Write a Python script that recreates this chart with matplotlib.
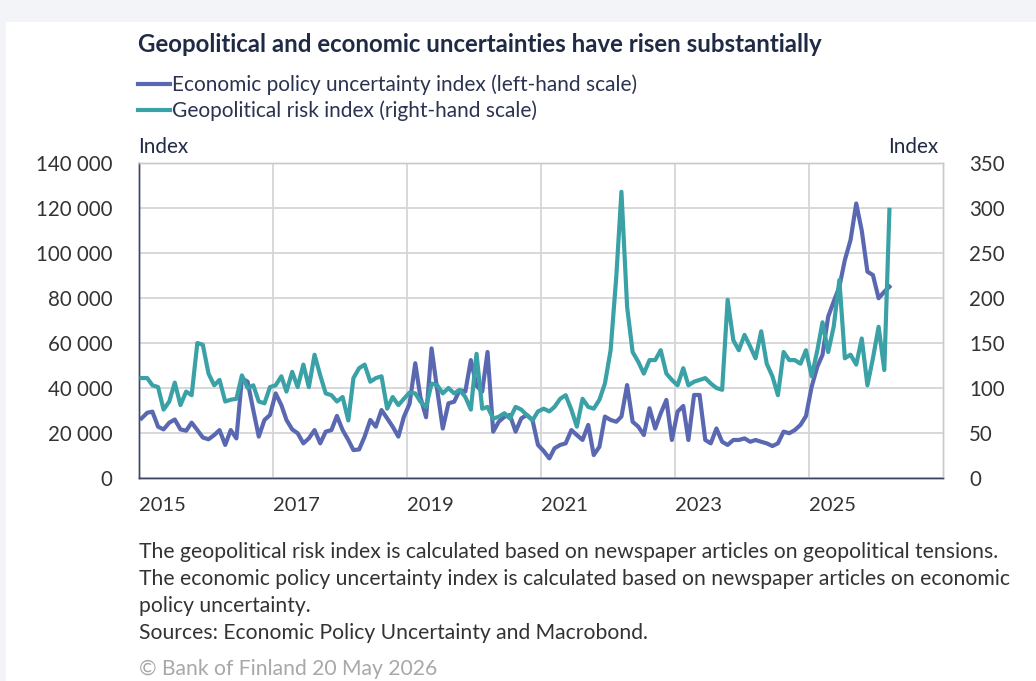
import matplotlib
matplotlib.use("Agg")
import matplotlib.pyplot as plt
import matplotlib.ticker as mticker
from matplotlib.patches import Rectangle
from matplotlib.lines import Line2D
import matplotlib.dates as mdates
import pandas as pd

# ---------------- data ----------------
start_month = "2015-01-01"
epu = [26500, 29000, 29500, 22800, 21600, 24600, 26000, 21600, 21000, 24600, 21300, 18000,
       17200, 19100, 21300, 14700, 21300, 17600, 44300, 42800, 30200, 18400, 25800, 28000,
       37600, 32400, 25800, 21600, 19900, 15400, 17600, 21300, 15400, 20600, 21300, 27600,
       21300, 16900, 12400, 12700, 18400, 25800, 22800, 30200, 26500, 22800, 18400, 27200,
       33000, 51000, 36000, 27000, 57600, 39000, 22000, 33200, 33900, 39000, 38400, 52400,
       41000, 38400, 56000, 20600, 25000, 27200, 28000, 20600, 26500, 28000, 25800, 14700,
       12000, 8700, 13200, 14700, 15400, 21300, 19100, 16900, 23600, 10200, 13900, 27300,
       25800, 25000, 27300, 41300, 25000, 22800, 19100, 31000, 22000, 28700, 34700, 16900,
       29500, 32000, 16900, 36900, 36900, 16900, 15400, 22000, 16100, 14700, 16900, 16900,
       17600, 16100, 16900, 16100, 15400, 14200, 15400, 20600, 19900, 21300, 23600, 27500,
       40600, 49500, 54700, 71700, 78400, 85000, 96900, 105800, 122000, 110000, 91700, 90200,
       79900, 82800, 85000]
gpr = [111, 111, 103, 101, 76, 85, 106, 81, 96, 92, 150, 148,
       116, 103, 109, 85, 87, 88, 114, 100, 103, 85, 83, 101,
       103, 113, 96, 118, 101, 126, 101, 137, 114, 94, 92, 85,
       90, 64, 111, 122, 126, 107, 111, 113, 77, 90, 81, 88,
       95, 94, 85, 79, 105, 103, 94, 100, 94, 98, 90, 76,
       138, 77, 79, 66, 68, 72, 66, 79, 76, 70, 64, 74,
       77, 74, 79, 88, 92, 76, 57, 88, 79, 77, 87, 105,
       142, 224, 318, 190, 140, 129, 116, 131, 131, 142, 116, 109,
       103, 122, 103, 107, 109, 111, 105, 100, 98, 198, 153, 142,
       159, 146, 133, 163, 127, 113, 92, 140, 131, 131, 127, 142,
       113, 142, 173, 140, 168, 220, 133, 137, 126, 155, 103, 133,
       168, 120, 298]

title = "Geopolitical and economic uncertainties have risen substantially"
legend_labels = ["Economic policy uncertainty index (left-hand scale)",
                 "Geopolitical risk index (right-hand scale)"]
axis_unit = "Index"
left_ticks = [0, 20000, 40000, 60000, 80000, 100000, 120000, 140000]
right_ticks = [0, 50, 100, 150, 200, 250, 300, 350]
year_ticks = [2015, 2017, 2019, 2021, 2023, 2025]
notes = ["The geopolitical risk index is calculated based on newspaper articles on geopolitical tensions.",
         "The economic policy uncertainty index is calculated based on newspaper articles on economic",
         "policy uncertainty.",
         "Sources: Economic Policy Uncertainty and Macrobond."]
copyright_text = "\u00a9 Bank of Finland 20 May 2026"

# ---------------- style ----------------
W, H, DPI = 1036, 681, 100
FONT = "Lato"
C_EPU = "#5a68b2"
C_GPR = "#3aa1a6"
C_TEXT = "#1f2a44"
C_GRID = "#d6d6d9"

plt.rcParams["font.family"] = [FONT, "DejaVu Sans"]

fig = plt.figure(figsize=(W / DPI, H / DPI), dpi=DPI)
fig.patch.set_facecolor("#f3f4f7")
fig.patches.append(Rectangle((6 / W, 0), 1 - 6 / W, 1 - 22 / H, transform=fig.transFigure,
                             facecolor="white", edgecolor="none", zorder=-10))
renderer = fig.canvas.get_renderer()


def px(x, y):
    return x / W, 1 - y / H


def fit_size(s, target_w, weight="normal", base=14):
    t = fig.text(0, 0, s, fontsize=base, fontweight=weight)
    w = t.get_window_extent(renderer=renderer).width
    t.remove()
    return base * target_w / w


def fit_text(x, y, s, target_w, weight="normal", color=C_TEXT, **kw):
    size = fit_size(s, target_w, weight)
    return fig.text(*px(x, y), s, fontsize=size, fontweight=weight, color=color,
                    va="baseline", ha="left", **kw)


# axes
L, R, T, B = 139, 943, 163, 478
ax = fig.add_axes([L / W, 1 - B / H, (R - L) / W, (B - T) / H])
ax2 = ax.twinx()

dates = pd.date_range(start_month, periods=len(epu), freq="MS") + pd.Timedelta(days=14)
ax.plot(dates, epu, color=C_EPU, lw=3.0, solid_joinstyle="round", zorder=3)
ax2.plot(dates, gpr, color=C_GPR, lw=3.0, solid_joinstyle="round", zorder=3)

ax.set_xlim(pd.Timestamp("2015-01-01"), pd.Timestamp("2027-01-01"))
ax.set_ylim(0, 140000)
ax2.set_ylim(0, 350)

tick_size = fit_size("140 000", 77)
ax.set_yticks(left_ticks)
ax.yaxis.set_major_formatter(mticker.FuncFormatter(lambda v, p: f"{int(v):,}".replace(",", " ")))
ax2.set_yticks(right_ticks)
ax.tick_params(axis="y", length=0, pad=19, labelsize=tick_size, labelcolor="#333333")
ax2.tick_params(axis="y", length=0, pad=19, labelsize=tick_size, labelcolor="#333333")

ax.set_xticks([pd.Timestamp(f"{y}-01-01") for y in year_ticks])
ax.set_xticklabels([str(y) for y in year_ticks])
ax.tick_params(axis="x", length=0, pad=14, labelsize=fit_size("2015", 47), labelcolor="#333333")
for lab in ax.get_xticklabels():
    lab.set_ha("left")

ax.grid(True, axis="both", color=C_GRID, lw=1.3, zorder=0)
ax.set_axisbelow(True)
for a in (ax, ax2):
    a.spines["left"].set_color("#3b4566")
    a.spines["bottom"].set_color("#3b4566")
    a.spines["top"].set_color("#c9c9cc")
    a.spines["right"].set_color("#c9c9cc")
    for s in a.spines.values():
        s.set_linewidth(1.0)

# texts
fit_text(138, 52, title, 688, weight="bold")
fig.add_artist(Line2D([138 / W, 170 / W], [1 - 84 / H, 1 - 84 / H], color=C_EPU, lw=3.0,
                      transform=fig.transFigure))
fig.add_artist(Line2D([138 / W, 170 / W], [1 - 110 / H, 1 - 110 / H], color=C_GPR, lw=3.0,
                      transform=fig.transFigure))
fit_text(172, 91, legend_labels[0], 468, color="#2b3350")
fit_text(172, 117, legend_labels[1], 368, color="#2b3350")
fit_text(138, 153, axis_unit, 50)
fit_text(888, 153, axis_unit, 50)

note_ys = [558, 585, 612, 639]
note_targets = [858, 867, None, None]
nsize = fit_size(notes[0], 858)
for y, s in zip(note_ys, notes):
    fig.text(*px(139, y), s, fontsize=nsize, color="#333333", va="baseline", ha="left")
fig.text(*px(139, 675), copyright_text, fontsize=nsize, color="#a8a8ac", va="baseline", ha="left")

fig.savefig("out.png", dpi=DPI, facecolor=fig.get_facecolor())
